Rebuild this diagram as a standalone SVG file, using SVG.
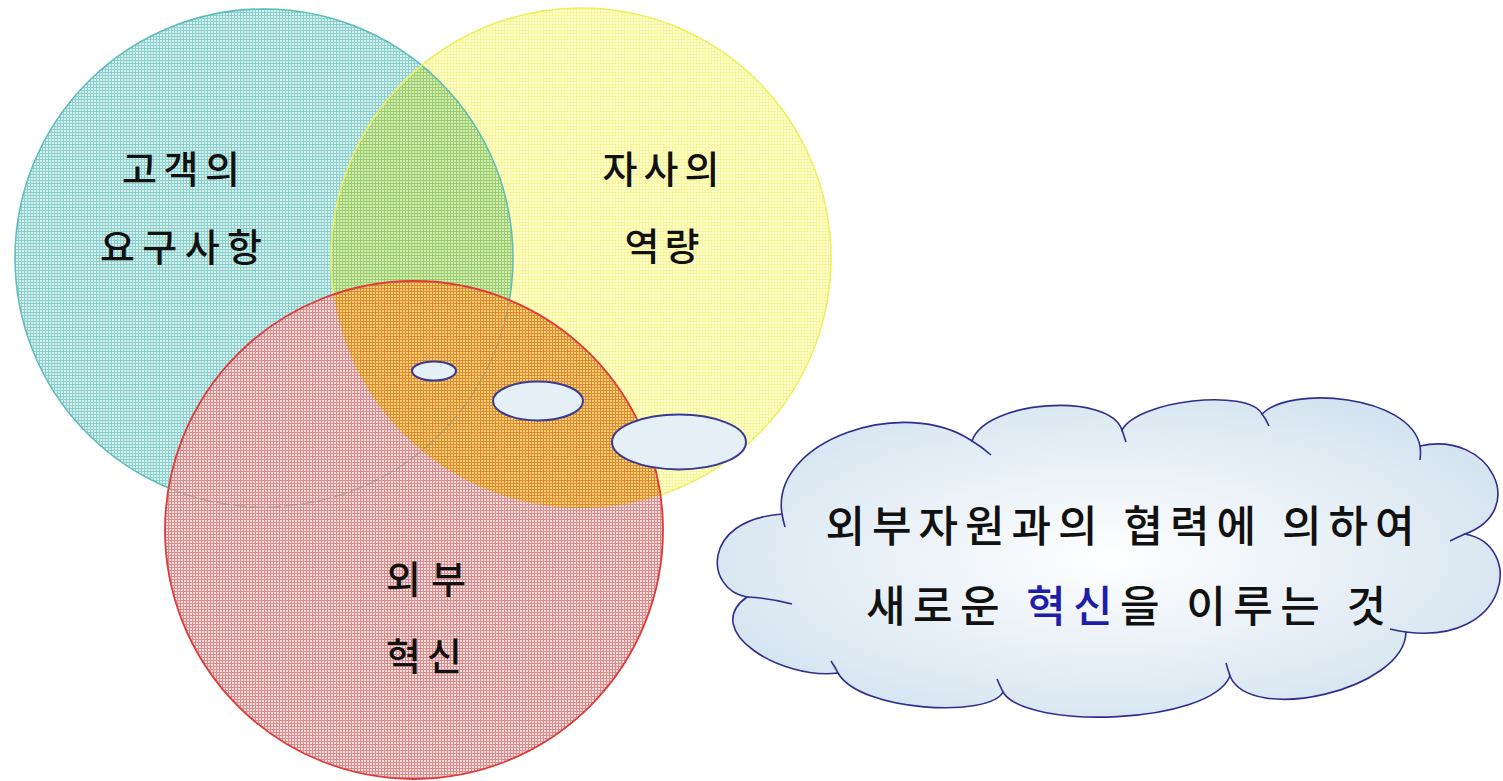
<svg xmlns="http://www.w3.org/2000/svg" width="1503" height="781" viewBox="0 0 1503 781">
<style>
.lbl{font-family:"Liberation Sans","Noto Sans CJK KR",sans-serif;font-size:38px;font-weight:500;fill:#111;text-anchor:middle}
.ctx{font-family:"Liberation Sans","Noto Sans CJK KR",sans-serif;font-size:43px;font-weight:500;fill:#111;text-anchor:middle}
.bub{fill:#e4f0f6;stroke:#3a3a94;stroke-width:2}
.cl{stroke:#2e2e8c;stroke-width:1.6;fill:none}
</style>
<defs>
<pattern id="pc" width="3" height="3" patternUnits="userSpaceOnUse"><rect width="3" height="3" fill="#d4f2f0"/><rect width="3" height="1" fill="#8ecfcc"/><rect width="1" height="3" fill="#8ecfcc"/></pattern>
<pattern id="py" width="3" height="3" patternUnits="userSpaceOnUse"><rect width="3" height="3" fill="#ffffd2"/><rect width="3" height="1" fill="#f7f79a"/><rect width="1" height="3" fill="#f7f79a"/></pattern>
<pattern id="pg" width="3" height="3" patternUnits="userSpaceOnUse"><rect width="3" height="3" fill="#d2f0b4"/><rect width="3" height="1" fill="#9ccc6e"/><rect width="1" height="3" fill="#9ccc6e"/></pattern>
<pattern id="pr" width="3" height="3" patternUnits="userSpaceOnUse"><rect width="3" height="3" fill="#fadcdc"/><rect width="3" height="1" fill="#d88c8c"/><rect width="1" height="3" fill="#d88c8c"/></pattern>
<pattern id="po" width="3" height="3" patternUnits="userSpaceOnUse"><rect width="3" height="3" fill="#fcd070"/><rect width="3" height="1" fill="#dc8a34"/><rect width="1" height="3" fill="#dc8a34"/></pattern>
<clipPath id="redclip"><circle cx="414" cy="530" r="249"/></clipPath>
<clipPath id="cyanclip"><circle cx="264" cy="258" r="249"/></clipPath>
<radialGradient id="cg" cx="50%" cy="50%" r="60%"><stop offset="0" stop-color="#ffffff"/><stop offset="1" stop-color="#d2e2ef"/></radialGradient>
</defs>
<rect width="1503" height="781" fill="#ffffff"/>
<g id="circle-customer">
<circle cx="264" cy="258" r="249" fill="url(#pc)"/>
</g>
<g id="circle-capability">
<circle cx="581" cy="258" r="250" fill="url(#py)"/>
<circle cx="581" cy="258" r="250" fill="url(#pg)" clip-path="url(#cyanclip)"/>
<circle cx="264" cy="258" r="249" fill="none" stroke="#5cbcbc" stroke-width="1.5"/>
<circle cx="581" cy="258" r="250" fill="none" stroke="#eeee60" stroke-width="1.5"/>
</g>
<g id="circle-external">
<circle cx="414" cy="530" r="249" fill="url(#pr)"/>
<circle cx="581" cy="258" r="250" fill="url(#po)" clip-path="url(#redclip)"/>
<circle cx="264" cy="258" r="249" fill="none" stroke="#7a9a80" stroke-width="1.2" stroke-dasharray="14 3" opacity="0.6" clip-path="url(#redclip)"/>
<circle cx="414" cy="530" r="249" fill="none" stroke="#e03a3a" stroke-width="1.8"/>
</g>
<g id="labels">
<text class="lbl" x="181" y="183" textLength="118" lengthAdjust="spacing">고객의</text>
<text class="lbl" x="181" y="261" textLength="162" lengthAdjust="spacing">요구사항</text>
<text class="lbl" x="661" y="183" textLength="117" lengthAdjust="spacing">자사의</text>
<text class="lbl" x="662" y="260" textLength="75" lengthAdjust="spacing">역량</text>
<text class="lbl" x="426" y="593" textLength="80" lengthAdjust="spacing">외부</text>
<text class="lbl" x="424" y="670" textLength="76" lengthAdjust="spacing">혁신</text>
</g>
<g id="connectors">
<ellipse class="bub" cx="434" cy="371" rx="22" ry="9.5"/>
<ellipse class="bub" cx="538" cy="401" rx="45" ry="19.5"/>
<ellipse class="bub" cx="679" cy="442" rx="67" ry="27.5"/>
</g>
<g id="cloud">
<path d="M782,514 C770,440 905,395 972,441 C985,400 1110,392 1122,430 C1138,400 1248,388 1262,414 C1290,385 1410,395 1420,446 C1490,430 1530,510 1465,534 C1525,545 1510,645 1406,632 C1405,690 1250,725 1230,676 C1210,725 1025,730 1003,692 C990,718 860,712 838,673 C780,680 700,630 747,597 C705,590 700,520 782,514 Z" fill="url(#cg)" stroke="#2e2e8c" stroke-width="1.6"/>
<path class="cl" d="M782,514 Q783,520 785,527 M972,441 Q982,447 991,455 M1122,430 Q1124,436 1126,442 M1262,414 Q1266,419 1269,426 M1420,446 Q1421,452 1420,460 M1465,534 Q1458,537 1450,541 M1406,632 Q1398,631 1390,629 M1230,676 Q1228,670 1226,663 M1003,692 Q1000,686 997,679 M838,673 Q835,667 831,661 M747,597 Q770,598 792,604"/>
<text class="ctx" x="1120" y="542" textLength="589" lengthAdjust="spacing">외부자원과의 협력에 의하여</text>
<text class="ctx" x="1126" y="622" textLength="520" lengthAdjust="spacing">새로운 <tspan fill="#1e1ea8">혁신</tspan>을 이루는 것</text>
</g>
</svg>
